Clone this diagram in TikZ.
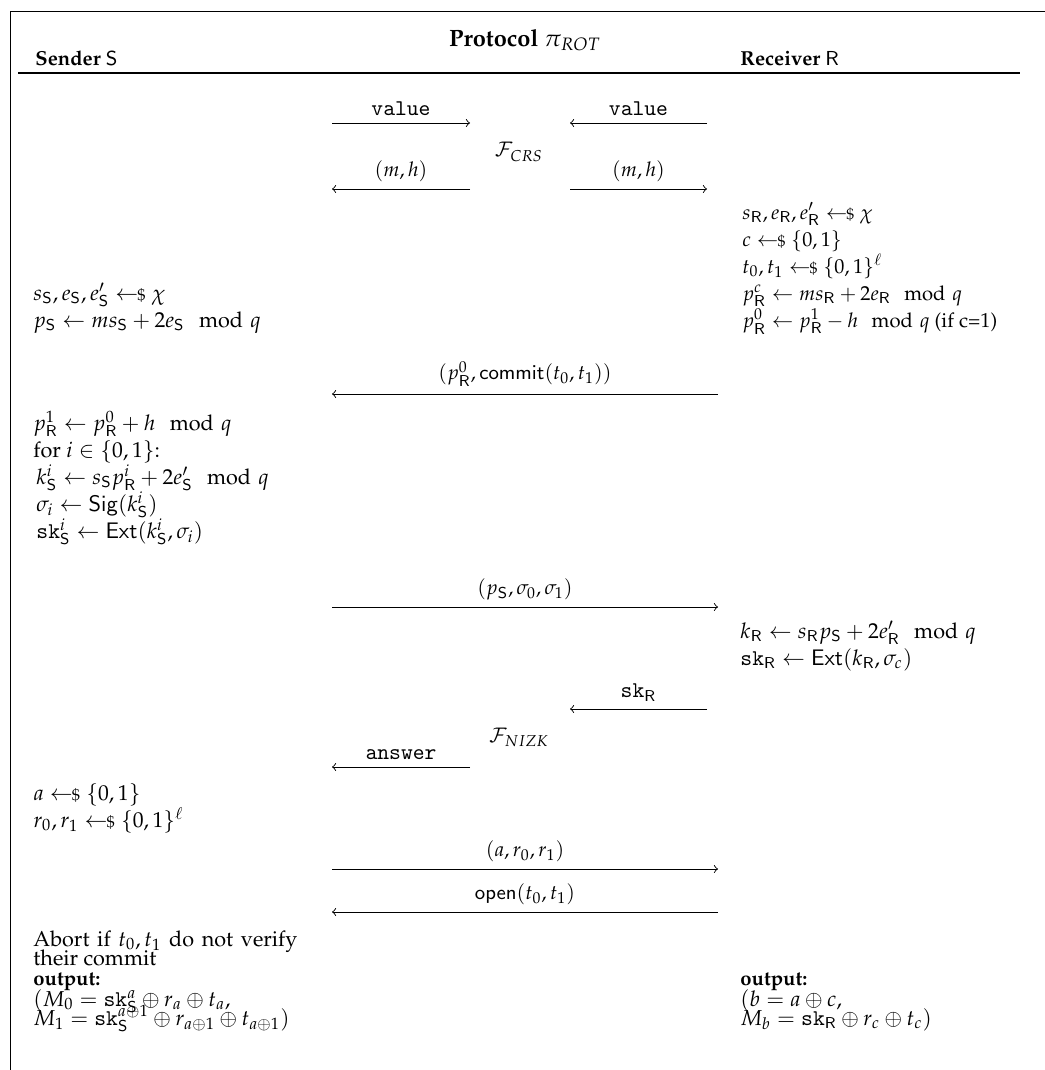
\documentclass[tikz,border=0pt]{standalone}
\usepackage[T1]{fontenc}
\usepackage{amsmath}
\usepackage{mathpazo}
\newcommand{\rnd}{\mathrel{\leftarrow\!\!{\scriptstyle\$}}}
\newcommand{\snd}{\mathsf{S}}
\newcommand{\rcv}{\mathsf{R}}
\newcommand{\msgtt}[1]{{\fontsize{10}{12}\selectfont$\mathtt{#1}$}}
\begin{document}
\fontsize{9}{11}\selectfont
\begin{tikzpicture}[x=0.4444pt, y=-0.4444pt, text_style/.style={anchor=base west,inner sep=0pt,font=\fontsize{9.6}{11.5}\selectfont}, narrow_style/.style={anchor=base west,inner sep=0pt}, head_style/.style={anchor=base west,inner sep=0pt,font=\bfseries}, msg_style/.style={draw=black,->}, func_style/.style={inner sep=0pt}]
      \useasboundingbox (0,0) rectangle (1045,1070);
      \draw (1045,11) -- (10,11) -- (10,1070);
      \node[font=\fontsize{10.5}{13}\selectfont\bfseries] (title) at (525,40) {Protocol $\pi_{ROT}$};
      \node[head_style] (sender) at (35,65) {Sender $\snd$};
      \node[head_style] (receiver) at (740,65) {Receiver $\rcv$};
      \draw[line width=0.6pt] (18,73) -- (1020,73);
      \node[func_style] (fcrs) at (519,152) {$\mathcal{F}_{CRS}$};
      \node[func_style] (fnizk) at (519,737) {$\mathcal{F}_{NIZK}$};
      \coordinate (a1) at (332,123); \coordinate (b1) at (470,123);
      \coordinate (a2) at (707,123); \coordinate (b2) at (570,123);
      \coordinate (a3) at (470,189); \coordinate (b3) at (332,189);
      \coordinate (a4) at (570,189); \coordinate (b4) at (707,189);
      \coordinate (a5) at (718,394); \coordinate (b5) at (332,394);
      \coordinate (a6) at (332,607); \coordinate (b6) at (718,607);
      \coordinate (a7) at (707,709); \coordinate (b7) at (570,709);
      \coordinate (a8) at (470,767); \coordinate (b8) at (332,767);
      \coordinate (a9) at (332,869); \coordinate (b9) at (718,869);
      \coordinate (a10) at (718,912); \coordinate (b10) at (332,912);
      \node[narrow_style] (r1) at (742,219) {$s_\rcv, e_\rcv, e'_\rcv \rnd \chi$};
      \node[narrow_style] (r2) at (742,246) {$c \rnd \{0,1\}$};
      \node[narrow_style] (r3) at (742,273) {$t_0, t_1 \rnd \{0,1\}^\ell$};
      \node[narrow_style] (r4) at (742,300) {$p^c_\rcv \gets m s_\rcv + 2e_\rcv \mod q$};
      \node[narrow_style] (r5) at (742,327) {$p^0_\rcv \gets p^1_\rcv - h \mod q$ (if c=1)};
      \node[text_style] (l1) at (33,300) {$s_\snd, e_\snd, e'_\snd \rnd \chi$};
      \node[text_style] (l2) at (33,327) {$p_\snd \gets m s_\snd + 2e_\snd \mod q$};
      \node[text_style] (l3) at (33,430) {$p^1_\rcv \gets p^0_\rcv + h \mod q$};
      \node[text_style] (l4) at (33,457) {for $i \in \{0,1\}$:};
      \node[text_style] (l5) at (36,484) {$k^i_\snd \gets s_\snd p^i_\rcv + 2e'_\snd \mod q$};
      \node[text_style] (l6) at (36,511) {$\sigma_i \gets \mathsf{Sig}(k^i_\snd)$};
      \node[text_style] (l7) at (36,538) {$\mathtt{sk}^i_\snd \gets \mathsf{Ext}(k^i_\snd, \sigma_i)$};
      \node[text_style] (r6) at (740,638) {$k_\rcv \gets s_\rcv p_\snd + 2e'_\rcv \mod q$};
      \node[text_style] (r7) at (740,665) {$\mathtt{sk}_\rcv \gets \mathsf{Ext}(k_\rcv, \sigma_c)$};
      \node[text_style] (l8) at (33,800) {$a \rnd \{0,1\}$};
      \node[text_style] (l9) at (33,827) {$r_0, r_1 \rnd \{0,1\}^\ell$};
      \node[text_style] (l10) at (33,946) {\makebox[117.3pt][s]{Abort if $t_0, t_1$ do not verify}};
      \node[text_style] (l11) at (33,965) {their commit};
      \node[head_style] (l12) at (33,985) {output:};
      \node[text_style] (l13) at (33,1006) {$(M_0 = \mathtt{sk}^a_\snd \oplus r_a \oplus t_a,$};
      \node[text_style] (l14) at (33,1025) {$M_1 = \mathtt{sk}^{a\oplus 1}_\snd \oplus r_{a\oplus 1} \oplus t_{a\oplus 1})$};
      \node[head_style] (r8) at (740,985) {output:};
      \node[text_style] (r9) at (740,1006) {$(b = a \oplus c,$};
      \node[text_style] (r10) at (740,1025) {$M_b = \mathtt{sk}_\rcv \oplus r_c \oplus t_c)$};
      \begin{scope}[-]
        \draw[msg_style] (a1) to node[above] {\msgtt{value}} (b1);
        \draw[msg_style] (a2) to node[above] {\msgtt{value}} (b2);
        \draw[msg_style] (a3) to node[above] {$(m,h)$} (b3);
        \draw[msg_style] (a4) to node[above] {$(m,h)$} (b4);
        \draw[msg_style] (a5) to node[above] {$(p^0_\rcv, \mathsf{commit}(t_0,t_1))$} (b5);
        \draw[msg_style] (a6) to node[above] {$(p_\snd, \sigma_0, \sigma_1)$} (b6);
        \draw[msg_style] (a7) to node[above] {\msgtt{sk}$_\rcv$} (b7);
        \draw[msg_style] (a8) to node[above] {\msgtt{answer}} (b8);
        \draw[msg_style] (a9) to node[above] {$(a, r_0, r_1)$} (b9);
        \draw[msg_style] (a10) to node[above] {$\mathsf{open}(t_0,t_1)$} (b10);
      \end{scope}
    \end{tikzpicture}
\end{document}
